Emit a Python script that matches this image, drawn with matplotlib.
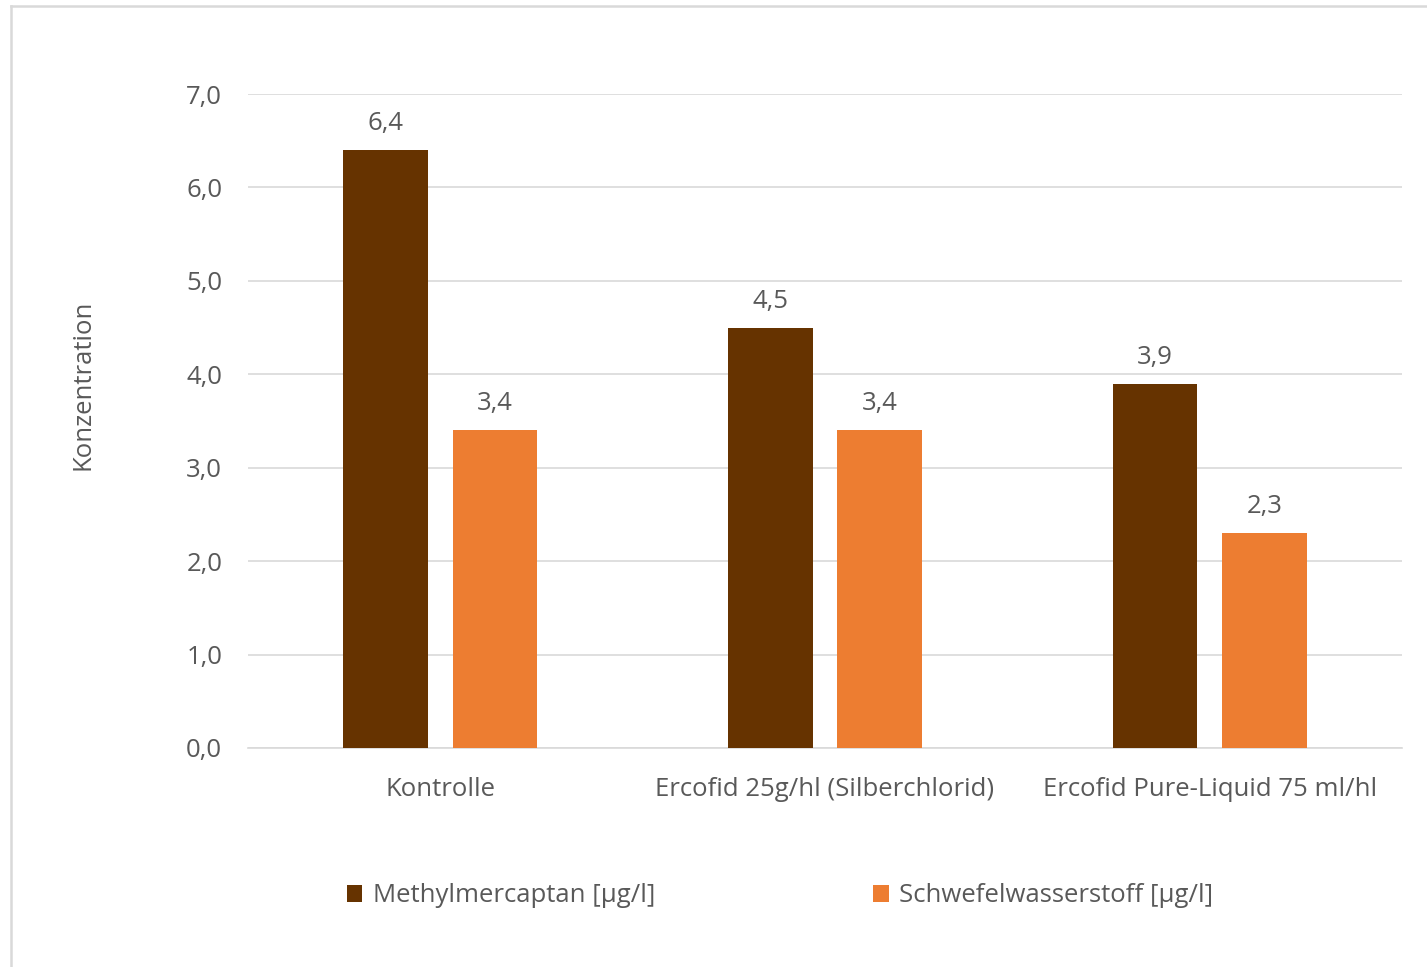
import matplotlib
matplotlib.use("Agg")
import matplotlib.pyplot as plt
from matplotlib.lines import Line2D
import numpy as np

categories = ["Kontrolle", "Ercofid 25g/hl (Silberchlorid)", "Ercofid Pure-Liquid 75 ml/hl"]
series_names = ["Methylmercaptan [µg/l]", "Schwefelwasserstoff [µg/l]"]
methyl = [6.4, 4.5, 3.9]
schwefel = [3.4, 3.4, 2.3]
yticks = [0, 1, 2, 3, 4, 5, 6, 7]

colors = ["#663300", "#ED7D31"]
text_color = "#595959"
plt.rcParams['font.family'] = ['Open Sans', 'DejaVu Sans']
FS = 18.5

W, H = 1427, 967
fig = plt.figure(figsize=(W / 100, H / 100), dpi=100)
# figure frame: only left and top edges visible
fig.lines.append(Line2D([11 / W, 11 / W], [0, 1 - 6 / H], transform=fig.transFigure,
                        color="#D9D9D9", linewidth=1.8))
fig.lines.append(Line2D([11 / W, 1], [1 - 6 / H, 1 - 6 / H], transform=fig.transFigure,
                        color="#D9D9D9", linewidth=1.8))

ax = fig.add_axes([248 / W, 1 - 748 / H, (1402 - 248) / W, (748 - 94) / H])
x = np.arange(len(categories))
w = 0.22
off = 0.142
for i, (vals, name) in enumerate(zip([methyl, schwefel], series_names)):
    pos = x - off if i == 0 else x + off
    bars = ax.bar(pos, vals, width=w, color=colors[i], label=name, zorder=3)
    for b, v in zip(bars, vals):
        ax.annotate(f"{v:.1f}".replace(".", ","), (b.get_x() + b.get_width() / 2, v),
                    xytext=(0, 10), textcoords="offset points", ha="center", va="bottom",
                    fontsize=FS, color=text_color)

ax.set_xlim(-0.5, 2.5)
ax.set_ylim(0, 7)
ax.set_yticks(yticks)
ax.set_yticklabels([f"{t:.1f}".replace(".", ",") for t in yticks], fontsize=FS, color=text_color)
ax.set_xticks(x)
ax.set_xticklabels(categories, fontsize=FS, color=text_color)
ax.tick_params(axis="both", length=0)
ax.tick_params(axis="y", pad=18.5)
ax.tick_params(axis="x", pad=21)
ax.grid(axis="y", color="#D9D9D9", linewidth=1.2, zorder=0)
for s in ["top", "right", "left"]:
    ax.spines[s].set_visible(False)
ax.spines["bottom"].set_color("#D9D9D9")
ax.spines["bottom"].set_linewidth(1.2)
ax.set_ylabel("Konzentration", fontsize=FS, color=text_color, labelpad=0)
ax.yaxis.set_label_coords((96 - 248) / (1402 - 248), (748 - 385) / (748 - 94))

leg = fig.legend(loc="center", bbox_to_anchor=(780 / W, 1 - 896 / H), ncol=2, frameon=False,
                 fontsize=FS, handlelength=0.6, handleheight=0.6, handletextpad=0.4,
                 columnspacing=8.5, labelcolor=text_color)

fig.savefig("out.png", dpi=100, facecolor="white")
